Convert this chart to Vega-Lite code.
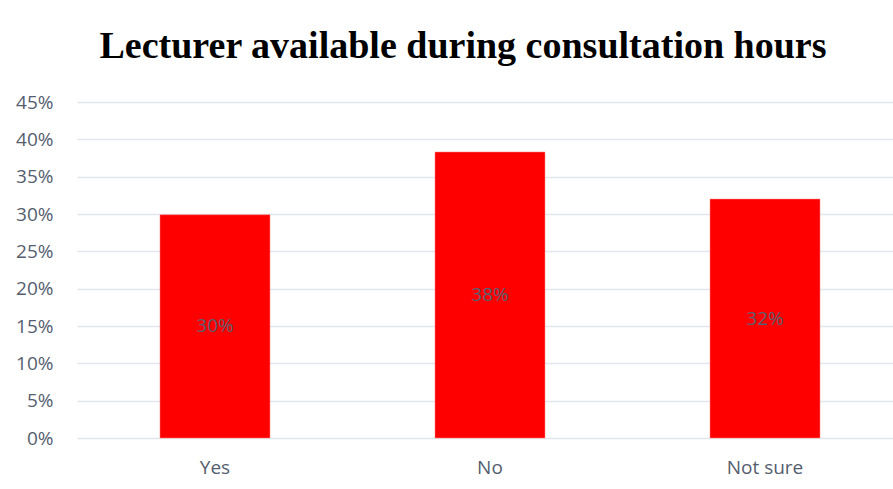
{
  "$schema": "https://vega.github.io/schema/vega-lite/v6.json",
  "width": 816,
  "height": 336,
  "autosize": {"type": "none"},
  "padding": {"left": 77, "top": 102, "right": 0, "bottom": 51},
  "background": "white",
  "title": {
    "text": "Lecturer available during consultation hours",
    "font": "Liberation Serif",
    "fontSize": 38,
    "fontWeight": "bold",
    "color": "#000000",
    "anchor": "middle",
    "frame": "group",
    "dx": -22,
    "baseline": "alphabetic",
    "offset": -3
  },
  "data": {
    "values": [
      {"response": "Yes", "share": 0.299},
      {"response": "No", "share": 0.383},
      {"response": "Not sure", "share": 0.32}
    ]
  },
  "encoding": {
    "x": {
      "field": "response",
      "type": "nominal",
      "sort": null,
      "scale": {"paddingInner": 0.6, "paddingOuter": 0.2836, "align": 0.532},
      "axis": {
        "title": null,
        "labelAngle": 0,
        "ticks": false,
        "domain": false,
        "labelPadding": 20,
        "labelFont": "Open Sans",
        "labelFontSize": 19,
        "labelColor": "#555e6e"
      }
    },
    "y": {
      "field": "share",
      "type": "quantitative",
      "scale": {"domain": [0, 0.45], "nice": false},
      "axis": {
        "title": null,
        "format": ".0%",
        "values": [0, 0.05, 0.1, 0.15, 0.2, 0.25, 0.3, 0.35, 0.4, 0.45],
        "ticks": false,
        "domain": false,
        "labelPadding": 24,
        "labelFont": "Open Sans",
        "labelFontSize": 19,
        "labelColor": "#555e6e",
        "grid": true,
        "gridColor": "#e2e5eb",
        "gridWidth": 1.5
      }
    }
  },
  "layer": [
    {
      "mark": {"type": "bar", "color": "#ff0000", "stroke": "#ff8080", "strokeWidth": 0.5}
    },
    {
      "transform": [{"calculate": "datum.share / 2", "as": "mid"}],
      "mark": {"type": "text", "font": "Open Sans", "fontSize": 19, "color": "#5b5e6e", "baseline": "middle"},
      "encoding": {
        "y": {"field": "mid", "type": "quantitative"},
        "text": {"field": "share", "type": "quantitative", "format": ".0%"}
      }
    }
  ],
  "config": {"view": {"stroke": null}}
}
